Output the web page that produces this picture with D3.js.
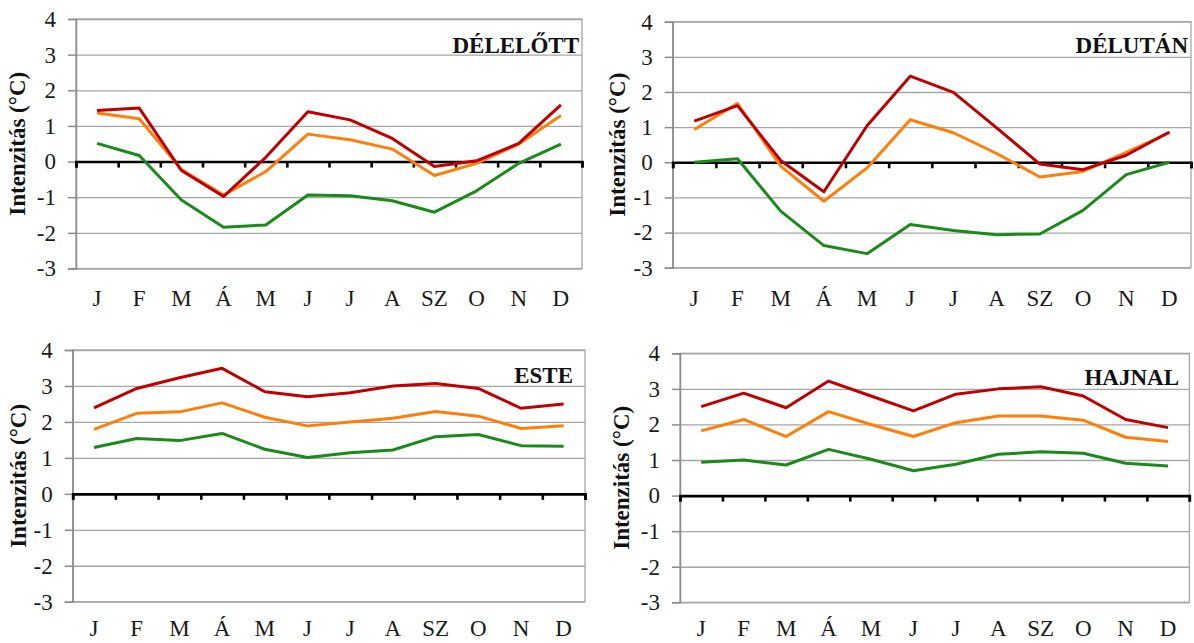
<!DOCTYPE html>
<html>
<head>
<meta charset="utf-8">
<script src="https://cdn.jsdelivr.net/npm/d3@7"></script>
<style>
  html, body { margin: 0; padding: 0; background: #fff; }
  svg { display: block; font-family: "Liberation Serif", "Times New Roman", serif; }
</style>
</head>
<body>
<svg id="chart" width="1194" height="643"></svg>
<script>
// Month labels (Hungarian initials) and y-axis tick values
const months = ["J", "F", "M", "Á", "M", "J", "J", "A", "SZ", "O", "N", "D"];
const yTicks = [-3, -2, -1, 0, 1, 2, 3, 4];
const panelTitles = ["DÉLELŐTT", "DÉLUTÁN", "ESTE", "HAJNAL"];
const yTitle = "Intenzitás (°C)";

// Monthly intensity values, three series per time of day
const delelottRed    = [1.43, 1.50, -0.25, -0.98, 0.12, 1.40, 1.17, 0.65, -0.14, 0.02, 0.51, 1.59];
const delelottOrange = [1.36, 1.20, -0.22, -0.94, -0.28, 0.77, 0.61, 0.35, -0.39, -0.05, 0.49, 1.29];
const delelottGreen  = [0.51, 0.17, -1.08, -1.84, -1.78, -0.94, -0.96, -1.10, -1.42, -0.82, -0.05, 0.49];

const delutanRed    = [1.17, 1.61, 0.05, -0.84, 1.04, 2.45, 1.99, 0.98, -0.05, -0.21, 0.20, 0.86];
const delutanOrange = [0.93, 1.67, -0.11, -1.11, -0.16, 1.21, 0.84, 0.25, -0.42, -0.26, 0.28, 0.84];
const delutanGreen  = [0.00, 0.10, -1.39, -2.37, -2.60, -1.77, -1.94, -2.06, -2.04, -1.37, -0.35, 0.00];

const esteRed    = [2.39, 2.93, 3.23, 3.49, 2.84, 2.70, 2.81, 3.00, 3.07, 2.93, 2.38, 2.50];
const esteOrange = [1.79, 2.24, 2.28, 2.53, 2.13, 1.89, 2.00, 2.10, 2.29, 2.16, 1.82, 1.89];
const esteGreen  = [1.29, 1.54, 1.48, 1.68, 1.24, 1.01, 1.14, 1.22, 1.59, 1.65, 1.34, 1.32];

const hajnalRed    = [2.50, 2.88, 2.47, 3.22, 2.80, 2.38, 2.85, 3.00, 3.06, 2.80, 2.14, 1.91];
const hajnalOrange = [1.82, 2.14, 1.66, 2.36, 2.00, 1.66, 2.05, 2.24, 2.24, 2.12, 1.64, 1.52];
const hajnalGreen  = [0.94, 1.00, 0.86, 1.30, 1.02, 0.70, 0.88, 1.16, 1.23, 1.19, 0.91, 0.83];

const seriesColors = ["#c00000", "#ff7f0a", "#1b8a1b"];

const panelSeries = [
  [delelottRed, delelottOrange, delelottGreen],
  [delutanRed, delutanOrange, delutanGreen],
  [esteRed, esteOrange, esteGreen],
  [hajnalRed, hajnalOrange, hajnalGreen]
];

// Plot-area geometry of the four small multiples
const layout = [
  { left: 76,    right: 582,    top: 19,    bottom: 268.5, titleX: 579,  titleY: 53,  yTitleX: 25,  xLabelY: 306 },
  { left: 672.7, right: 1191,   top: 21.7,  bottom: 267.7, titleX: 1188, titleY: 53,  yTitleX: 625, xLabelY: 306 },
  { left: 72.7,  right: 585,    top: 350,   bottom: 601.7, titleX: 573,  titleY: 383, yTitleX: 26,  xLabelY: 636 },
  { left: 680,   right: 1189.3, top: 353.3, bottom: 602.3, titleX: 1179, titleY: 385, yTitleX: 629, xLabelY: 636 }
];

const svg = d3.select("#chart");
const fontSize = 23;

panelSeries.forEach((series, p) => {
  const L = layout[p];
  const g = svg.append("g");

  const x = d3.scaleBand().domain(d3.range(months.length)).range([L.left, L.right]).padding(0);
  const xEdge = d3.scaleLinear().domain([0, months.length]).range([L.left, L.right]);
  const y = d3.scaleLinear().domain([-3, 4]).range([L.bottom, L.top]);

  // horizontal gridlines
  g.append("g")
    .attr("transform", `translate(${L.left},0)`)
    .call(d3.axisLeft(y).tickValues(yTicks).tickSize(-(L.right - L.left)).tickFormat(""))
    .call(a => a.select(".domain").remove())
    .call(a => a.selectAll(".tick line").attr("stroke", "#a6a6a6").attr("stroke-width", 1.3));

  // plot-area frame
  g.append("rect")
    .attr("x", L.left).attr("y", L.top)
    .attr("width", L.right - L.left).attr("height", L.bottom - L.top)
    .attr("fill", "none").attr("stroke", "#a6a6a6").attr("stroke-width", 1.3);

  // y axis with outside ticks and labels
  g.append("g")
    .attr("transform", `translate(${L.left},0)`)
    .call(d3.axisLeft(y).tickValues(yTicks).tickSize(8).tickPadding(12).tickFormat(d3.format("d")))
    .call(a => a.select(".domain").attr("stroke", "#8c8c8c").attr("stroke-width", 1.5))
    .call(a => a.selectAll(".tick line").attr("stroke", "#8c8c8c").attr("stroke-width", 1.5))
    .call(a => a.selectAll(".tick text")
      .attr("font-family", "Liberation Serif, serif")
      .attr("font-size", fontSize)
      .attr("fill", "#1a1a1a")
      .text(d => d < 0 ? "-" + Math.abs(d) : d));

  // category axis crossing at zero
  g.append("g")
    .attr("transform", `translate(0,${y(0)})`)
    .call(d3.axisBottom(xEdge).tickValues(d3.range(months.length + 1)).tickSize(6).tickFormat(""))
    .call(a => a.select(".domain").attr("stroke", "#000").attr("stroke-width", 2.6))
    .call(a => a.selectAll(".tick line").attr("stroke", "#000").attr("stroke-width", 2.6));

  // month labels under the plot area
  g.append("g").selectAll("text")
    .data(months)
    .join("text")
    .attr("x", (d, i) => x(i) + x.bandwidth() / 2)
    .attr("y", L.xLabelY)
    .attr("text-anchor", "middle")
    .attr("font-size", fontSize)
    .attr("fill", "#1a1a1a")
    .text(d => d);

  // y-axis title
  g.append("text")
    .attr("transform", `translate(${L.yTitleX},${(L.top + L.bottom) / 2}) rotate(-90)`)
    .attr("text-anchor", "middle")
    .attr("font-size", fontSize)
    .attr("font-weight", "bold")
    .attr("fill", "#111")
    .text(yTitle);

  // panel title
  g.append("text")
    .attr("x", L.titleX)
    .attr("y", L.titleY)
    .attr("text-anchor", "end")
    .attr("font-size", fontSize)
    .attr("font-weight", "bold")
    .attr("fill", "#111")
    .text(panelTitles[p]);

  // series lines
  const line = d3.line()
    .x((d, i) => x(i) + x.bandwidth() / 2)
    .y(d => y(d));

  g.append("g").selectAll("path")
    .data(series.map((values, k) => ({ values, color: seriesColors[k] })).reverse())
    .join("path")
    .attr("d", d => line(d.values))
    .attr("fill", "none")
    .attr("stroke", d => d.color)
    .attr("stroke-width", 3)
    .attr("stroke-linejoin", "round");
});
</script>
</body>
</html>
